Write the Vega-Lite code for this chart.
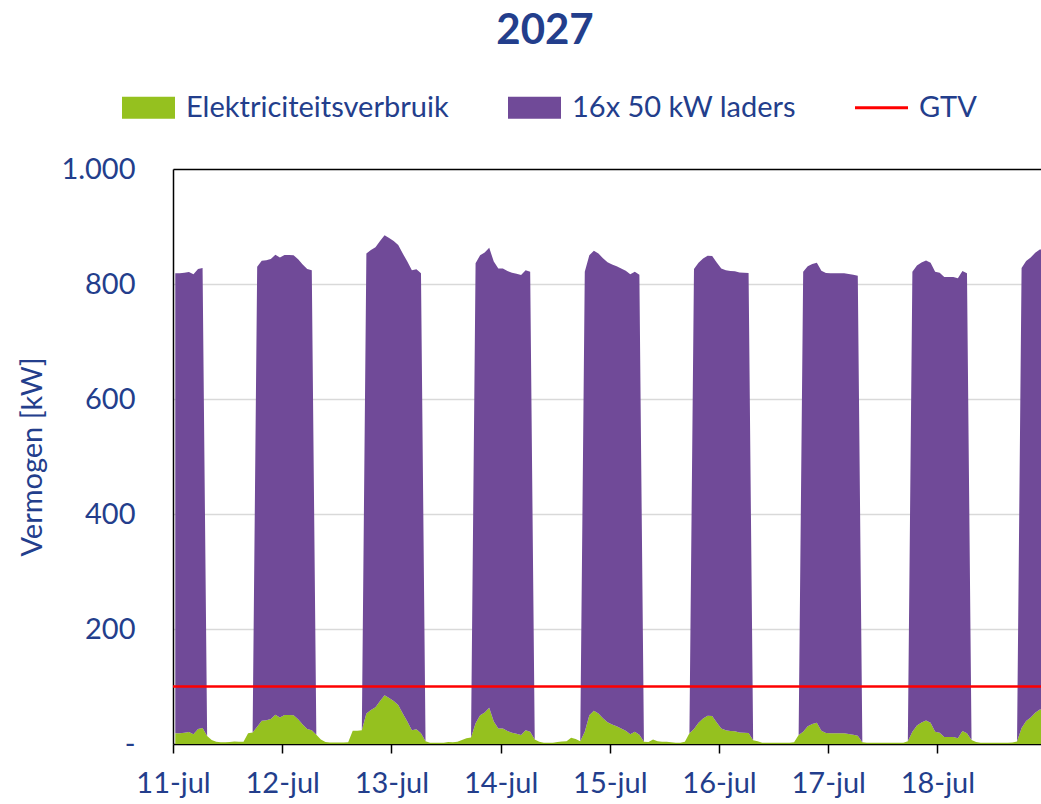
{
  "$schema": "https://vega.github.io/schema/vega-lite/v6.json",
  "autosize": {"type": "none"},
  "padding": {"left": 173, "top": 169, "right": 0, "bottom": 60},
  "width": 868,
  "height": 575,
  "title": {"text": "2027", "fontSize": 42, "fontWeight": "bold", "color": "#233E8C", "font": "Lato", "anchor": "middle", "offset": 28, "dx": -62},
  "config": {
    "font": "Lato",
    "view": {"stroke": null},
    "legend": {"padding": 0}
  },
  "layer": [
    {
      "data": {"values": [
        {"t":"2027-07-11T00:30","verbruik":18.5,"laders":800},
        {"t":"2027-07-11T01:30","verbruik":18.5,"laders":800},
        {"t":"2027-07-11T02:30","verbruik":19.5,"laders":800},
        {"t":"2027-07-11T03:30","verbruik":21,"laders":800},
        {"t":"2027-07-11T04:30","verbruik":17,"laders":800},
        {"t":"2027-07-11T05:30","verbruik":26,"laders":800},
        {"t":"2027-07-11T06:30","verbruik":28,"laders":800},
        {"t":"2027-07-11T07:30","verbruik":14,"laders":0},
        {"t":"2027-07-11T08:30","verbruik":7,"laders":0},
        {"t":"2027-07-11T09:30","verbruik":4,"laders":0},
        {"t":"2027-07-11T10:30","verbruik":3,"laders":0},
        {"t":"2027-07-11T11:30","verbruik":3,"laders":0},
        {"t":"2027-07-11T12:30","verbruik":3.5,"laders":0},
        {"t":"2027-07-11T13:30","verbruik":4.5,"laders":0},
        {"t":"2027-07-11T14:30","verbruik":4,"laders":0},
        {"t":"2027-07-11T15:30","verbruik":4,"laders":0},
        {"t":"2027-07-11T16:30","verbruik":18.5,"laders":0},
        {"t":"2027-07-11T17:30","verbruik":20,"laders":0},
        {"t":"2027-07-11T18:30","verbruik":30,"laders":800},
        {"t":"2027-07-11T19:30","verbruik":40.5,"laders":800},
        {"t":"2027-07-11T20:30","verbruik":41.5,"laders":800},
        {"t":"2027-07-11T21:30","verbruik":43.5,"laders":800},
        {"t":"2027-07-11T22:30","verbruik":51,"laders":800},
        {"t":"2027-07-11T23:30","verbruik":46,"laders":800},
        {"t":"2027-07-12T00:30","verbruik":50.5,"laders":800},
        {"t":"2027-07-12T01:30","verbruik":50.5,"laders":800},
        {"t":"2027-07-12T02:30","verbruik":50,"laders":800},
        {"t":"2027-07-12T03:30","verbruik":43,"laders":800},
        {"t":"2027-07-12T04:30","verbruik":34,"laders":800},
        {"t":"2027-07-12T05:30","verbruik":26,"laders":800},
        {"t":"2027-07-12T06:30","verbruik":24,"laders":800},
        {"t":"2027-07-12T07:30","verbruik":16,"laders":0},
        {"t":"2027-07-12T08:30","verbruik":8,"laders":0},
        {"t":"2027-07-12T09:30","verbruik":3.5,"laders":0},
        {"t":"2027-07-12T10:30","verbruik":2.5,"laders":0},
        {"t":"2027-07-12T11:30","verbruik":2.5,"laders":0},
        {"t":"2027-07-12T12:30","verbruik":2.5,"laders":0},
        {"t":"2027-07-12T13:30","verbruik":2.5,"laders":0},
        {"t":"2027-07-12T14:30","verbruik":3,"laders":0},
        {"t":"2027-07-12T15:30","verbruik":23,"laders":0},
        {"t":"2027-07-12T16:30","verbruik":23,"laders":0},
        {"t":"2027-07-12T17:30","verbruik":24,"laders":0},
        {"t":"2027-07-12T18:30","verbruik":53,"laders":800},
        {"t":"2027-07-12T19:30","verbruik":59,"laders":800},
        {"t":"2027-07-12T20:30","verbruik":64,"laders":800},
        {"t":"2027-07-12T21:30","verbruik":75,"laders":800},
        {"t":"2027-07-12T22:30","verbruik":85,"laders":800},
        {"t":"2027-07-12T23:30","verbruik":80,"laders":800},
        {"t":"2027-07-13T00:30","verbruik":75,"laders":800},
        {"t":"2027-07-13T01:30","verbruik":68,"laders":800},
        {"t":"2027-07-13T02:30","verbruik":53,"laders":800},
        {"t":"2027-07-13T03:30","verbruik":39,"laders":800},
        {"t":"2027-07-13T04:30","verbruik":24,"laders":800},
        {"t":"2027-07-13T05:30","verbruik":25.5,"laders":800},
        {"t":"2027-07-13T06:30","verbruik":18.5,"laders":800},
        {"t":"2027-07-13T07:30","verbruik":5,"laders":0},
        {"t":"2027-07-13T08:30","verbruik":2,"laders":0},
        {"t":"2027-07-13T09:30","verbruik":2,"laders":0},
        {"t":"2027-07-13T10:30","verbruik":2,"laders":0},
        {"t":"2027-07-13T11:30","verbruik":2,"laders":0},
        {"t":"2027-07-13T12:30","verbruik":3.5,"laders":0},
        {"t":"2027-07-13T13:30","verbruik":3,"laders":0},
        {"t":"2027-07-13T14:30","verbruik":4,"laders":0},
        {"t":"2027-07-13T15:30","verbruik":7,"laders":0},
        {"t":"2027-07-13T16:30","verbruik":10,"laders":0},
        {"t":"2027-07-13T17:30","verbruik":11.5,"laders":0},
        {"t":"2027-07-13T18:30","verbruik":36,"laders":800},
        {"t":"2027-07-13T19:30","verbruik":50,"laders":800},
        {"t":"2027-07-13T20:30","verbruik":55,"laders":800},
        {"t":"2027-07-13T21:30","verbruik":63,"laders":800},
        {"t":"2027-07-13T22:30","verbruik":39,"laders":800},
        {"t":"2027-07-13T23:30","verbruik":27,"laders":800},
        {"t":"2027-07-14T00:30","verbruik":27,"laders":800},
        {"t":"2027-07-14T01:30","verbruik":22.5,"laders":800},
        {"t":"2027-07-14T02:30","verbruik":19.5,"laders":800},
        {"t":"2027-07-14T03:30","verbruik":18,"laders":800},
        {"t":"2027-07-14T04:30","verbruik":15.5,"laders":800},
        {"t":"2027-07-14T05:30","verbruik":24,"laders":800},
        {"t":"2027-07-14T06:30","verbruik":21.5,"laders":800},
        {"t":"2027-07-14T07:30","verbruik":8,"laders":0},
        {"t":"2027-07-14T08:30","verbruik":4,"laders":0},
        {"t":"2027-07-14T09:30","verbruik":2,"laders":0},
        {"t":"2027-07-14T10:30","verbruik":2,"laders":0},
        {"t":"2027-07-14T11:30","verbruik":2,"laders":0},
        {"t":"2027-07-14T12:30","verbruik":3.5,"laders":0},
        {"t":"2027-07-14T13:30","verbruik":4.5,"laders":0},
        {"t":"2027-07-14T14:30","verbruik":5,"laders":0},
        {"t":"2027-07-14T15:30","verbruik":11,"laders":0},
        {"t":"2027-07-14T16:30","verbruik":8.5,"laders":0},
        {"t":"2027-07-14T17:30","verbruik":5,"laders":0},
        {"t":"2027-07-14T18:30","verbruik":21.5,"laders":800},
        {"t":"2027-07-14T19:30","verbruik":50,"laders":800},
        {"t":"2027-07-14T20:30","verbruik":58,"laders":800},
        {"t":"2027-07-14T21:30","verbruik":53,"laders":800},
        {"t":"2027-07-14T22:30","verbruik":45,"laders":800},
        {"t":"2027-07-14T23:30","verbruik":38,"laders":800},
        {"t":"2027-07-15T00:30","verbruik":34,"laders":800},
        {"t":"2027-07-15T01:30","verbruik":31,"laders":800},
        {"t":"2027-07-15T02:30","verbruik":27,"laders":800},
        {"t":"2027-07-15T03:30","verbruik":23,"laders":800},
        {"t":"2027-07-15T04:30","verbruik":17,"laders":800},
        {"t":"2027-07-15T05:30","verbruik":21.5,"laders":800},
        {"t":"2027-07-15T06:30","verbruik":16,"laders":800},
        {"t":"2027-07-15T07:30","verbruik":4,"laders":0},
        {"t":"2027-07-15T08:30","verbruik":3.5,"laders":0},
        {"t":"2027-07-15T09:30","verbruik":8,"laders":0},
        {"t":"2027-07-15T10:30","verbruik":5,"laders":0},
        {"t":"2027-07-15T11:30","verbruik":4,"laders":0},
        {"t":"2027-07-15T12:30","verbruik":4,"laders":0},
        {"t":"2027-07-15T13:30","verbruik":3,"laders":0},
        {"t":"2027-07-15T14:30","verbruik":2,"laders":0},
        {"t":"2027-07-15T15:30","verbruik":2,"laders":0},
        {"t":"2027-07-15T16:30","verbruik":4,"laders":0},
        {"t":"2027-07-15T17:30","verbruik":18.5,"laders":0},
        {"t":"2027-07-15T18:30","verbruik":26,"laders":800},
        {"t":"2027-07-15T19:30","verbruik":37,"laders":800},
        {"t":"2027-07-15T20:30","verbruik":44.5,"laders":800},
        {"t":"2027-07-15T21:30","verbruik":49,"laders":800},
        {"t":"2027-07-15T22:30","verbruik":48.5,"laders":800},
        {"t":"2027-07-15T23:30","verbruik":37.5,"laders":800},
        {"t":"2027-07-16T00:30","verbruik":27,"laders":800},
        {"t":"2027-07-16T01:30","verbruik":24,"laders":800},
        {"t":"2027-07-16T02:30","verbruik":22.5,"laders":800},
        {"t":"2027-07-16T03:30","verbruik":22,"laders":800},
        {"t":"2027-07-16T04:30","verbruik":20,"laders":800},
        {"t":"2027-07-16T05:30","verbruik":19.5,"laders":800},
        {"t":"2027-07-16T06:30","verbruik":19,"laders":800},
        {"t":"2027-07-16T07:30","verbruik":6.5,"laders":0},
        {"t":"2027-07-16T08:30","verbruik":5,"laders":0},
        {"t":"2027-07-16T09:30","verbruik":2,"laders":0},
        {"t":"2027-07-16T10:30","verbruik":2,"laders":0},
        {"t":"2027-07-16T11:30","verbruik":2,"laders":0},
        {"t":"2027-07-16T12:30","verbruik":2,"laders":0},
        {"t":"2027-07-16T13:30","verbruik":2,"laders":0},
        {"t":"2027-07-16T14:30","verbruik":2,"laders":0},
        {"t":"2027-07-16T15:30","verbruik":2,"laders":0},
        {"t":"2027-07-16T16:30","verbruik":3,"laders":0},
        {"t":"2027-07-16T17:30","verbruik":15.5,"laders":0},
        {"t":"2027-07-16T18:30","verbruik":21.5,"laders":800},
        {"t":"2027-07-16T19:30","verbruik":31,"laders":800},
        {"t":"2027-07-16T20:30","verbruik":35,"laders":800},
        {"t":"2027-07-16T21:30","verbruik":37,"laders":800},
        {"t":"2027-07-16T22:30","verbruik":23,"laders":800},
        {"t":"2027-07-16T23:30","verbruik":19,"laders":800},
        {"t":"2027-07-17T00:30","verbruik":18.5,"laders":800},
        {"t":"2027-07-17T01:30","verbruik":18.5,"laders":800},
        {"t":"2027-07-17T02:30","verbruik":18.5,"laders":800},
        {"t":"2027-07-17T03:30","verbruik":18.5,"laders":800},
        {"t":"2027-07-17T04:30","verbruik":17.5,"laders":800},
        {"t":"2027-07-17T05:30","verbruik":16,"laders":800},
        {"t":"2027-07-17T06:30","verbruik":14.5,"laders":800},
        {"t":"2027-07-17T07:30","verbruik":3,"laders":0},
        {"t":"2027-07-17T08:30","verbruik":2,"laders":0},
        {"t":"2027-07-17T09:30","verbruik":2,"laders":0},
        {"t":"2027-07-17T10:30","verbruik":2,"laders":0},
        {"t":"2027-07-17T11:30","verbruik":2,"laders":0},
        {"t":"2027-07-17T12:30","verbruik":2,"laders":0},
        {"t":"2027-07-17T13:30","verbruik":2,"laders":0},
        {"t":"2027-07-17T14:30","verbruik":2,"laders":0},
        {"t":"2027-07-17T15:30","verbruik":2,"laders":0},
        {"t":"2027-07-17T16:30","verbruik":2,"laders":0},
        {"t":"2027-07-17T17:30","verbruik":5,"laders":0},
        {"t":"2027-07-17T18:30","verbruik":21.5,"laders":800},
        {"t":"2027-07-17T19:30","verbruik":32,"laders":800},
        {"t":"2027-07-17T20:30","verbruik":37.5,"laders":800},
        {"t":"2027-07-17T21:30","verbruik":41,"laders":800},
        {"t":"2027-07-17T22:30","verbruik":37,"laders":800},
        {"t":"2027-07-17T23:30","verbruik":21.5,"laders":800},
        {"t":"2027-07-18T00:30","verbruik":19.5,"laders":800},
        {"t":"2027-07-18T01:30","verbruik":12,"laders":800},
        {"t":"2027-07-18T02:30","verbruik":12,"laders":800},
        {"t":"2027-07-18T03:30","verbruik":12,"laders":800},
        {"t":"2027-07-18T04:30","verbruik":10,"laders":800},
        {"t":"2027-07-18T05:30","verbruik":22.5,"laders":800},
        {"t":"2027-07-18T06:30","verbruik":18.5,"laders":800},
        {"t":"2027-07-18T07:30","verbruik":7,"laders":0},
        {"t":"2027-07-18T08:30","verbruik":3.5,"laders":0},
        {"t":"2027-07-18T09:30","verbruik":2,"laders":0},
        {"t":"2027-07-18T10:30","verbruik":2,"laders":0},
        {"t":"2027-07-18T11:30","verbruik":2,"laders":0},
        {"t":"2027-07-18T12:30","verbruik":2,"laders":0},
        {"t":"2027-07-18T13:30","verbruik":2,"laders":0},
        {"t":"2027-07-18T14:30","verbruik":2,"laders":0},
        {"t":"2027-07-18T15:30","verbruik":2,"laders":0},
        {"t":"2027-07-18T16:30","verbruik":2.5,"laders":0},
        {"t":"2027-07-18T17:30","verbruik":4.5,"laders":0},
        {"t":"2027-07-18T18:30","verbruik":28,"laders":800},
        {"t":"2027-07-18T19:30","verbruik":40,"laders":800},
        {"t":"2027-07-18T20:30","verbruik":46,"laders":800},
        {"t":"2027-07-18T21:30","verbruik":54.5,"laders":800},
        {"t":"2027-07-18T22:30","verbruik":60,"laders":800},
        {"t":"2027-07-18T23:30","verbruik":60,"laders":800}
      ]},
      "transform": [{"fold": ["verbruik", "laders"], "as": ["serie", "kW"]}],
      "mark": {"type": "area", "clip": true, "opacity": 1},
      "encoding": {
        "x": {
          "field": "t", "type": "temporal",
          "scale": {"domain": [{"year": 2027, "month": 7, "date": 11, "hours": 0}, {"year": 2027, "month": 7, "date": 18, "hours": 22, "minutes": 46}], "nice": false},
          "axis": {
            "title": null,
            "values": [
              {"year": 2027, "month": 7, "date": 11}, {"year": 2027, "month": 7, "date": 12},
              {"year": 2027, "month": 7, "date": 13}, {"year": 2027, "month": 7, "date": 14},
              {"year": 2027, "month": 7, "date": 15}, {"year": 2027, "month": 7, "date": 16},
              {"year": 2027, "month": 7, "date": 17}, {"year": 2027, "month": 7, "date": 18}
            ],
            "labelExpr": "timeFormat(datum.value, '%d') + '-jul'",
            "grid": false,
            "domainColor": "#000000", "domainWidth": 1.5,
            "tickColor": "#000000", "tickWidth": 1.5, "tickSize": 9,
            "labelFont": "Lato", "labelFontSize": 29, "labelColor": "#233E8C",
            "labelPadding": 16, "labelFlush": false, "labelOverlap": false, "labelAlign": "center"
          }
        },
        "y": {
          "field": "kW", "type": "quantitative", "stack": "zero",
          "scale": {"domain": [0, 1000], "nice": false},
          "axis": {
            "title": "Vermogen [kW]",
            "values": [0, 200, 400, 600, 800, 1000],
            "labelExpr": "datum.value == 0 ? '-\u00a0\u00a0' : replace(format(datum.value, ','), ',', '.')",
            "grid": true,
            "gridColor": {"condition": {"test": "datum.value == 1000", "value": "#000000"}, "value": "#D9D9D9"},
            "gridWidth": 1.5,
            "ticks": false,
            "domainColor": "#000000", "domainWidth": 1.5,
            "labelFont": "Lato", "labelFontSize": 29, "labelColor": "#233E8C", "labelPadding": 38,
            "titleFont": "Lato", "titleFontSize": 29, "titleColor": "#233E8C", "titleFontWeight": "normal", "titlePadding": 13
          }
        },
        "color": {
          "field": "serie", "type": "nominal",
          "scale": {"domain": ["verbruik", "laders", "GTV"], "range": ["#95C11F", "#704A98", "#FF0000"]},
          "legend": {
            "orient": "none", "legendX": -51, "legendY": -88,
            "direction": "horizontal", "columns": 3, "columnPadding": 59,
            "title": null,
            "labelExpr": "datum.label == 'verbruik' ? 'Elektriciteitsverbruik' : datum.label == 'laders' ? '16x 50 kW laders' : 'GTV'",
            "labelFont": "Lato", "labelFontSize": 29, "labelColor": "#233E8C", "labelLimit": 500, "labelOffset": 11,
            "symbolSize": 2809, "symbolType": "M-1,-0.415H1V0.415H-1Z", "symbolStrokeWidth": 0, "symbolOpacity": 1,
            "encode": {"symbols": {"update": {
              "shape": {"signal": "datum.value === 'GTV' ? 'M-1,-0.06H1V0.06H-1Z' : 'M-1,-0.415H1V0.415H-1Z'"},
              "fill": {"scale": "color", "field": "value"},
              "strokeWidth": {"value": 0},
              "opacity": {"value": 1}
            }}}
          }
        },
        "order": {"field": "serie", "sort": "descending"}
      }
    },
    {
      "data": {"values": [{"serie": "GTV", "kW": 100}]},
      "mark": {"type": "rule", "strokeWidth": 2.5},
      "encoding": {
        "y": {"field": "kW", "type": "quantitative"},
        "color": {"field": "serie", "type": "nominal"}
      }
    }
  ]
}
